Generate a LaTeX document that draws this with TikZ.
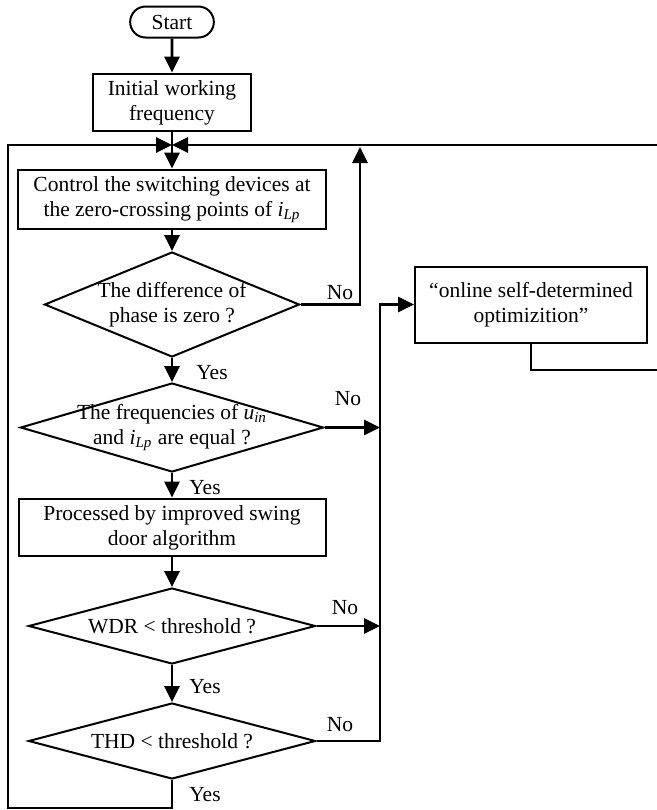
\documentclass[tikz,border=0pt]{standalone}
\usepackage{fontspec}
\setmainfont{Liberation Serif}
\usetikzlibrary{positioning, shapes.geometric, shapes.misc}
\usetikzlibrary{arrows.meta}
\tikzstyle{startstop} = [rounded rectangle, minimum width=48.5pt, minimum height=15.5pt, text centered, draw=black, line width=1pt]
\tikzstyle{process} = [rectangle, minimum height=26.5pt, align=center, draw=black, line width=1pt]
\tikzstyle{decision} = [diamond, inner sep=0pt, draw=black, line width=1pt]
\tikzstyle{dtext} = [align=center, inner sep=0pt]
\tikzstyle{arrow} = [line width=1.4pt,->,>={Triangle[length=8pt,width=7.5pt]}]
\tikzstyle{every node}=[font=\fontsize{10.75}{12.5}\selectfont]
\newcommand{\iLp}{\textit{i}\textsubscript{\textit{Lp}}}
\newcommand{\uin}{\textit{u}\textsubscript{\textit{in}}}

\begin{document}
\begin{tikzpicture}[x=0.5pt, y=-0.5pt]
		\useasboundingbox (0,0) rectangle (657,810);
		%主干流程
		\node (start) [startstop] at (172,22) {Start};
		\node (init) [process, minimum width=79pt, node distance=40.25pt, below of=start] {Initial working\\frequency};
		\node (ctrl) [process, minimum width=154pt, node distance=48.5pt, below of=init] {Control the switching devices at\\the zero-crossing points of \iLp};
		\node (dia1) [decision, minimum width=127.5pt, minimum height=52.5pt, node distance=52.5pt, below of=ctrl] {};
		\node (dia1txt) [dtext] at (dia1) {The difference of\\phase is zero ?};
		\node (dia2) [decision, minimum width=151.5pt, minimum height=44.5pt, node distance=61.5pt, below of=dia1] {};
		\node (dia2txt) [dtext] at (dia2) {The frequencies of \uin\\and \iLp{} are equal ?};
		\node (proc) [process, minimum width=153.5pt, minimum height=25.5pt, node distance=50pt, below of=dia2] {Processed by improved swing\\door algorithm};
		\node (dia3) [decision, minimum width=143.5pt, minimum height=38pt, node distance=49.25pt, below of=proc] {};
		\node (dia3txt) [dtext] at (dia3) {WDR < threshold ?};
		\node (dia4) [decision, minimum width=143.5pt, minimum height=38pt, node distance=57.5pt, below of=dia3] {};
		\node (dia4txt) [dtext] at (dia4) {THD < threshold ?};
		\node (opt) [process, minimum width=116pt, minimum height=38pt, node distance=179.5pt, right of=dia1] {“online self-determined\\optimizition”};
		
		%分支标注
		\node (yes1) at (212,373) {Yes};
		\node (yes2) at (205,488) {Yes};
		\node (yes3) at (205,687) {Yes};
		\node (yes4) at (205,795) {Yes};
		\node (no1) at (340,293) {No};
		\node (no2) at (348,399) {No};
		\node (no3) at (345,608) {No};
		\node (no4) at (340,725) {No};
		
		%连接点
		\coordinate (merge) at (172,145);
		\coordinate (lbot) at (8,808);
		\coordinate (rbot) at (672,370);
		\coordinate (notop) at (360,147);
		\coordinate (bus) at (380,0);
		
		%连接具体形状
		\draw [arrow](start) -- (init);
		\draw [arrow](init) -- (ctrl);
		\draw [arrow](ctrl) -- (dia1);
		\draw [arrow](dia1) -- (dia2);
		\draw [arrow](dia2) -- (proc);
		\draw [arrow](proc) -- (dia3);
		\draw [arrow](dia3) -- (dia4);
		\draw [arrow](dia4.south) |- (lbot) |- (merge);
		\draw [arrow](opt.south) |- (rbot) |- (merge);
		\draw [arrow](dia1.east) -| (notop);
		\draw [arrow](dia2.east) -- (dia2.east -| bus);
		\draw [arrow](dia3.east) -- (dia3.east -| bus);
		\draw [arrow](dia4.east) -| (bus |- opt.west) -- (opt.west);
	\end{tikzpicture}
\end{document}
